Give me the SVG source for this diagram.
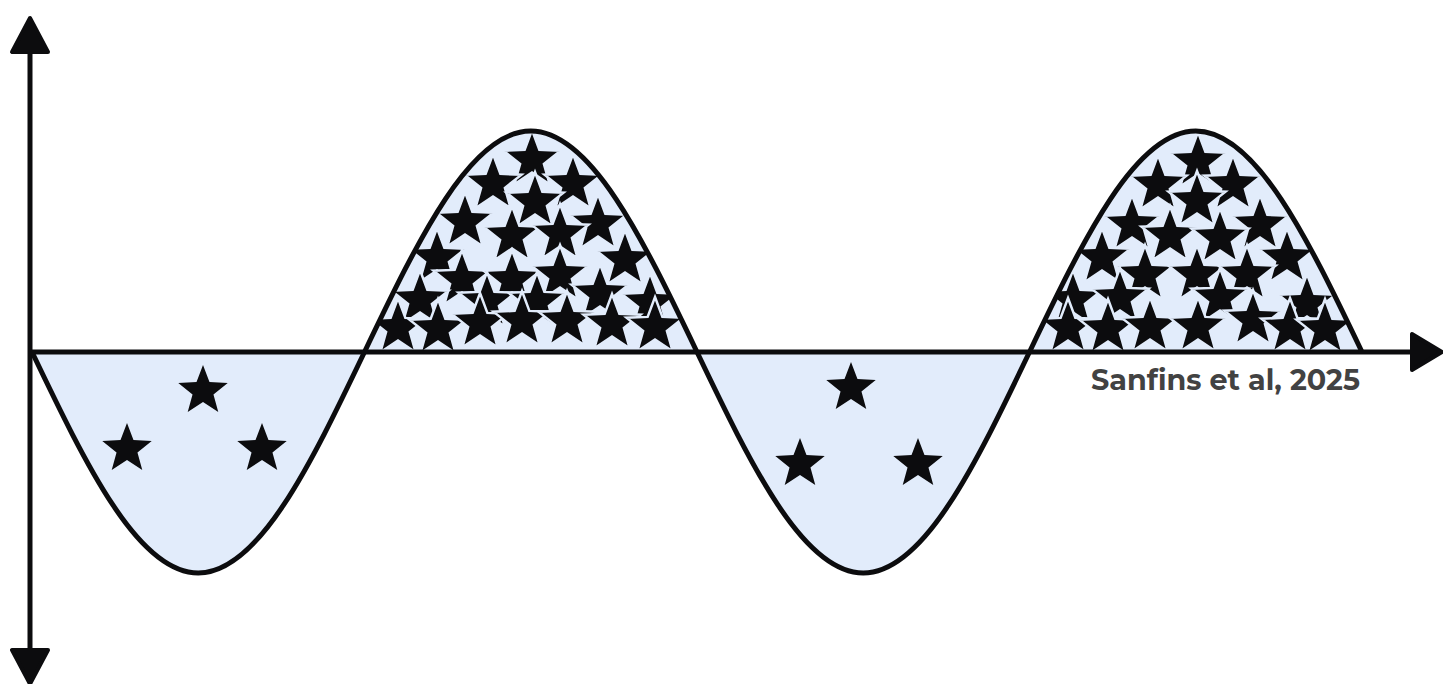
<svg xmlns="http://www.w3.org/2000/svg" xmlns:xlink="http://www.w3.org/1999/xlink" width="1443" height="684" viewBox="0 0 1443 684">
  <style>
    .lobe { fill: #e2ecfb; stroke: none; }
    .wave { fill: none; stroke: #0c0c0e; stroke-width: 5; stroke-linejoin: round; }
    .axis { stroke: #0c0c0e; stroke-width: 5; fill: none; }
    .head { fill: #0c0c0e; stroke: #0c0c0e; stroke-width: 4; stroke-linejoin: round; }
    .star { fill: #0c0c0e; }
    .pstar { fill: #0c0c0e; stroke: #e2ecfb; stroke-width: 2.5; stroke-linejoin: miter; }
    .label { font-family: "Montserrat", "Open Sans", "Liberation Sans", sans-serif; font-weight: 700; font-size: 29px; fill: #424242; }
  </style>
  <defs>
    <polygon id="star" points="0,-26 6.47,-8.9 24.73,-8.03 10.46,3.4 15.28,21.03 0,11 -15.28,21.03 -10.46,3.4 -24.73,-8.03 -6.47,-8.9"/>
    <polygon id="bigstar" points="0,-30 7.35,-10.11 28.53,-9.27 11.89,3.86 17.63,24.27 0,12.5 -17.63,24.27 -11.89,3.86 -28.53,-9.27 -7.35,-10.11"/>
    <clipPath id="clipP1">
      <path d="M364.5,352 C418.7,238.8 470.6,131 530.75,131 C590.85,131 642.8,238.8 697,352 Z"/>
    </clipPath>
    <clipPath id="clipP2">
      <path d="M1029.5,352 C1083.7,238.8 1135.6,131 1195.75,131 C1255.85,131 1307.8,238.8 1362,352 Z"/>
    </clipPath>
  </defs>

  <rect width="1443" height="684" fill="#ffffff"/>

  <g id="trough1">
    <path class="lobe" d="M32,352 C86.2,465.2 138.1,573 198.25,573 C258.35,573 310.3,465.2 364.5,352 Z"/>
    <use href="#star" class="star" x="203" y="391"/>
    <use href="#star" class="star" x="127" y="449"/>
    <use href="#star" class="star" x="262" y="449"/>
  </g>

  <g id="peak1">
    <path class="lobe" d="M364.5,352 C418.7,238.8 470.6,131 530.75,131 C590.85,131 642.8,238.8 697,352 Z"/>
    <g clip-path="url(#clipP1)">
      <use href="#bigstar" class="pstar" x="532" y="160"/>
      <use href="#bigstar" class="pstar" x="493" y="184"/>
      <use href="#bigstar" class="pstar" x="573" y="184"/>
      <use href="#bigstar" class="pstar" x="535" y="202"/>
      <use href="#bigstar" class="pstar" x="465" y="222"/>
      <use href="#bigstar" class="pstar" x="598" y="224"/>
      <use href="#bigstar" class="pstar" x="512" y="236"/>
      <use href="#bigstar" class="pstar" x="560" y="234"/>
      <use href="#bigstar" class="pstar" x="437" y="258"/>
      <use href="#bigstar" class="pstar" x="625" y="260"/>
      <use href="#bigstar" class="pstar" x="462" y="280"/>
      <use href="#bigstar" class="pstar" x="512" y="280"/>
      <use href="#bigstar" class="pstar" x="560" y="275"/>
      <use href="#bigstar" class="pstar" x="600" y="294"/>
      <use href="#bigstar" class="pstar" x="420" y="300"/>
      <use href="#bigstar" class="pstar" x="650" y="303"/>
      <use href="#bigstar" class="pstar" x="487" y="302"/>
      <use href="#bigstar" class="pstar" x="537" y="302"/>
      <use href="#bigstar" class="pstar" x="398" y="328"/>
      <use href="#bigstar" class="pstar" x="438" y="329"/>
      <use href="#bigstar" class="pstar" x="480" y="323"/>
      <use href="#bigstar" class="pstar" x="522" y="321"/>
      <use href="#bigstar" class="pstar" x="567" y="321"/>
      <use href="#bigstar" class="pstar" x="612" y="324"/>
      <use href="#bigstar" class="pstar" x="655" y="327"/>
    </g>
  </g>

  <g id="trough2">
    <path class="lobe" d="M697,352 C751.2,465.2 803.1,573 863.25,573 C923.35,573 975.3,465.2 1029.5,352 Z"/>
    <use href="#star" class="star" x="851" y="388"/>
    <use href="#star" class="star" x="800" y="464"/>
    <use href="#star" class="star" x="918" y="464"/>
  </g>

  <g id="peak2">
    <path class="lobe" d="M1029.5,352 C1083.7,238.8 1135.6,131 1195.75,131 C1255.85,131 1307.8,238.8 1362,352 Z"/>
    <g clip-path="url(#clipP2)">
      <use href="#bigstar" class="pstar" x="1198" y="162"/>
      <use href="#bigstar" class="pstar" x="1158" y="185"/>
      <use href="#bigstar" class="pstar" x="1233" y="185"/>
      <use href="#bigstar" class="pstar" x="1197" y="201"/>
      <use href="#bigstar" class="pstar" x="1132" y="225"/>
      <use href="#bigstar" class="pstar" x="1260" y="225"/>
      <use href="#bigstar" class="pstar" x="1170" y="236"/>
      <use href="#bigstar" class="pstar" x="1220" y="238"/>
      <use href="#bigstar" class="pstar" x="1102" y="258"/>
      <use href="#bigstar" class="pstar" x="1287" y="258"/>
      <use href="#bigstar" class="pstar" x="1145" y="275"/>
      <use href="#bigstar" class="pstar" x="1197" y="275"/>
      <use href="#bigstar" class="pstar" x="1247" y="275"/>
      <use href="#bigstar" class="pstar" x="1073" y="300"/>
      <use href="#bigstar" class="pstar" x="1307" y="304"/>
      <use href="#bigstar" class="pstar" x="1120" y="298"/>
      <use href="#bigstar" class="pstar" x="1220" y="298"/>
      <use href="#bigstar" class="pstar" x="1253" y="320"/>
      <use href="#bigstar" class="pstar" x="1068" y="328"/>
      <use href="#bigstar" class="pstar" x="1108" y="329"/>
      <use href="#bigstar" class="pstar" x="1150" y="327"/>
      <use href="#bigstar" class="pstar" x="1198" y="327"/>
      <use href="#bigstar" class="pstar" x="1290" y="328"/>
      <use href="#bigstar" class="pstar" x="1325" y="329"/>
    </g>
  </g>

  <g id="wave">
    <path class="wave" d="M32,352 C86.2,465.2 138.1,573 198.25,573 C258.35,573 310.3,465.2 364.5,352 C418.7,238.8 470.6,131 530.75,131 C590.85,131 642.8,238.8 697,352 C751.2,465.2 803.1,573 863.25,573 C923.35,573 975.3,465.2 1029.5,352 C1083.7,238.8 1135.6,131 1195.75,131 C1255.85,131 1307.8,238.8 1362,352"/>
  </g>

  <g id="axes">
    <line class="axis" x1="30" y1="40" x2="30" y2="660"/>
    <line class="axis" x1="30" y1="352" x2="1420" y2="352"/>
    <polygon class="head" points="30,18 12,52 48,52"/>
    <polygon class="head" points="30,684 12,650 48,650"/>
    <polygon class="head" points="1442,352 1412,334 1412,370"/>
  </g>

  <g id="label">
    <text class="label" x="1091" y="390" textLength="269" lengthAdjust="spacingAndGlyphs">Sanfins et al, 2025</text>
  </g>
</svg>
